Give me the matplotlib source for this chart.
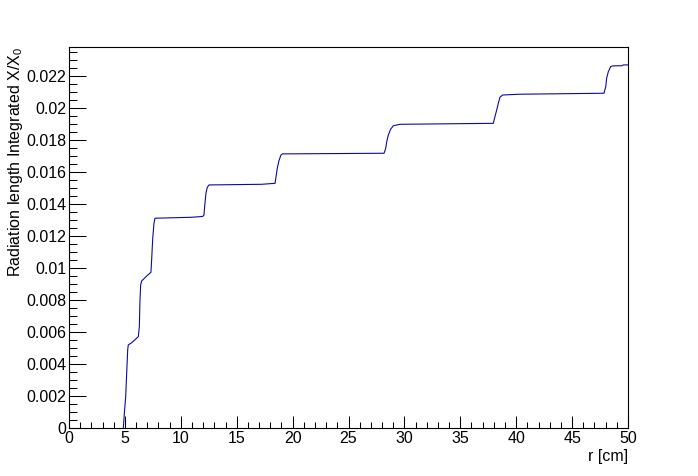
import matplotlib
matplotlib.use("Agg")
import matplotlib.pyplot as plt
from matplotlib.ticker import MultipleLocator, FuncFormatter

plt.rcParams['font.family'] = ['Liberation Sans', 'DejaVu Sans']
plt.rcParams['mathtext.default'] = 'regular'

# radius [cm] and integrated radiation length X/X0
r = [4.86, 4.95, 5.07, 5.16, 5.25, 5.30, 5.61, 6.20, 6.29, 6.35, 6.41, 6.50,
     6.95, 7.33, 7.40, 7.49, 7.60, 7.69, 10.97, 11.96, 12.07, 12.16, 12.25, 12.37,
     12.52, 17.24, 18.43, 18.52, 18.63, 18.78, 18.96, 19.08, 28.18, 28.33, 28.42,
     28.56, 28.77, 29.01, 29.61, 37.95, 38.10, 38.26, 38.40, 38.55, 38.79, 40.34,
     47.85, 48.01, 48.09, 48.24, 48.45, 48.63, 49.44, 49.58, 50.0]
x_x0 = [0.0, 0.00092, 0.00196, 0.00344, 0.00488, 0.00519, 0.00533, 0.00571,
        0.00633, 0.0080, 0.00894, 0.00919, 0.0095, 0.00973, 0.01061, 0.01186,
        0.01279, 0.01311, 0.01317, 0.01322, 0.01331, 0.01404, 0.01467, 0.01504,
        0.01519, 0.01523, 0.01529, 0.01571, 0.01623, 0.01671, 0.01706, 0.01713,
        0.01717, 0.01748, 0.01789, 0.01831, 0.01867, 0.01889, 0.01898, 0.01904,
        0.01946, 0.01988, 0.02029, 0.02067, 0.02081, 0.02086, 0.02092, 0.02133,
        0.02186, 0.02227, 0.02258, 0.02263, 0.02264, 0.02269, 0.02269]

fig = plt.figure(figsize=(6.98, 4.76), dpi=100)
ax = fig.add_axes([69/698, 1 - 428/476, (628 - 69)/698, (428 - 47)/476])

ax.plot(r, x_x0, color='#0a0aa8', lw=0.8)

ax.set_xlim(0, 50)
ax.set_ylim(0, 0.02381)

ax.xaxis.set_major_locator(MultipleLocator(5))
ax.xaxis.set_minor_locator(MultipleLocator(1))
ax.yaxis.set_major_locator(MultipleLocator(0.002))
ax.yaxis.set_minor_locator(MultipleLocator(0.0005))
ax.yaxis.set_major_formatter(FuncFormatter(lambda v, p: '%g' % round(v, 6)))

ax.tick_params(axis='both', which='both', direction='in', top=False, right=False,
               labelsize=11.5, width=0.75, color='black')
ax.tick_params(axis='x', which='major', length=8.6, pad=2)
ax.tick_params(axis='x', which='minor', length=4.3)
ax.tick_params(axis='y', which='major', length=12, pad=2)
ax.tick_params(axis='y', which='minor', length=6)

for s in ax.spines.values():
    s.set_linewidth(0.8)

ax.set_xlabel('r [cm]', fontsize=11.5, loc='right', labelpad=2)
ax.set_ylabel('Radiation length Integrated X/X$_{0}$', fontsize=11.5, loc='top', labelpad=1)

fig.savefig('out.png', dpi=100)
